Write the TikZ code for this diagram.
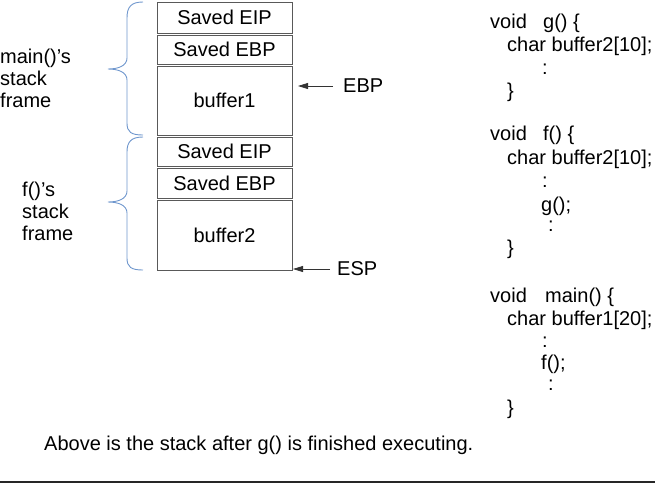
\documentclass[tikz,border=0pt]{standalone}
\usepackage{fontspec}
\setmainfont{Liberation Sans}
\usetikzlibrary{arrows.meta}
\begin{document}
\begin{tikzpicture}[x=1pt,y=-1pt,
  every node/.style={font=\fontsize{20}{22}\selectfont, inner sep=0pt},
  cell/.style={draw=black!65, line width=0.9pt, minimum width=135pt},
  brc/.style={draw={rgb,255:red,110;green,150;blue,205}, line width=0.9pt},
  txt/.style={anchor=base west},
  ptr/.style={draw=black!80, line width=0.8pt, -{Triangle[length=10pt,width=6pt]}}]
\useasboundingbox (0,0) rectangle (655,483);
% stack cells
\node[cell, minimum height=31pt] (eip1) at (224.5,17.5) {Saved EIP};
\node[cell, minimum height=29pt] (ebp1) at (224.5,49.5) {Saved EBP};
\node[cell, minimum height=69pt] (buf1) at (224.5,100.5) {buffer1};
\node[cell, minimum height=29pt] (eip2) at (224.5,151.5) {Saved EIP};
\node[cell, minimum height=30pt] (ebp2) at (224.5,183) {Saved EBP};
\node[cell, minimum height=70pt] (buf2) at (224.5,235) {buffer2};
% braces
\draw[brc] (143,2) .. controls (131,2) and (127,7) .. (127,18) -- (127,58)
  .. controls (127,66) and (118,69) .. (108,69)
  .. controls (118,69) and (127,72) .. (127,80) -- (127,123)
  .. controls (127,132) and (131,135) .. (143,135);
\draw[brc] (143,137) .. controls (131,137) and (127,142) .. (127,152) -- (127,191)
  .. controls (127,199) and (118,202) .. (108,202)
  .. controls (118,202) and (127,205) .. (127,213) -- (127,258)
  .. controls (127,267) and (131,270) .. (143,270);
% frame labels
\node[txt] (m1) at (0,63) {main()'s};
\node[txt] (m2) at (0,85) {stack};
\node[txt] (m3) at (0,107) {frame};
\node[txt] (f1) at (22,196) {f()'s};
\node[txt] (f2) at (22,218) {stack};
\node[txt] (f3) at (22,240) {frame};
% pointers
\node[anchor=west] (ebp) at (343,86) {EBP};
\coordinate (ebptip) at (298,86);
\draw[ptr] ([xshift=-10pt]ebp.west) -- (ebptip);
\node[anchor=west] (esp) at (337,269) {ESP};
\coordinate (esptip) at (293,269);
\draw[ptr] ([xshift=-7pt]esp.west) -- (esptip);
% code
\node[txt] (g1) at (490,28) {\makebox[53pt][l]{void}g() \{};
\node[txt] (g2) at (507,51) {char buffer2[10];};
\node[txt] (g3) at (542,74) {:};
\node[txt] (g4) at (507,97) {\}};
\node[txt] (f1c) at (490,140) {\makebox[53pt][l]{void}f() \{};
\node[txt] (f2c) at (507,164) {char buffer2[10];};
\node[txt] (f3c) at (542,187) {:};
\node[txt] (f4c) at (541,211) {g();};
\node[txt] (f5c) at (548,231) {:};
\node[txt] (f6c) at (507,254) {\}};
\node[txt] (mn1) at (490,302) {\makebox[55pt][l]{void}main() \{};
\node[txt] (mn2) at (507,325) {char buffer1[20];};
\node[txt] (mn3) at (542,347) {:};
\node[txt] (mn4) at (541,369) {f();};
\node[txt] (mn5) at (548,390) {:};
\node[txt] (mn6) at (507,414) {\}};
% caption
\node[txt] (cap) at (44,450) {Above is the stack after g() is finished executing.};
\draw[black!85, line width=2pt] (0,481.5) -- (655,481.5);
\end{tikzpicture}
\end{document}
